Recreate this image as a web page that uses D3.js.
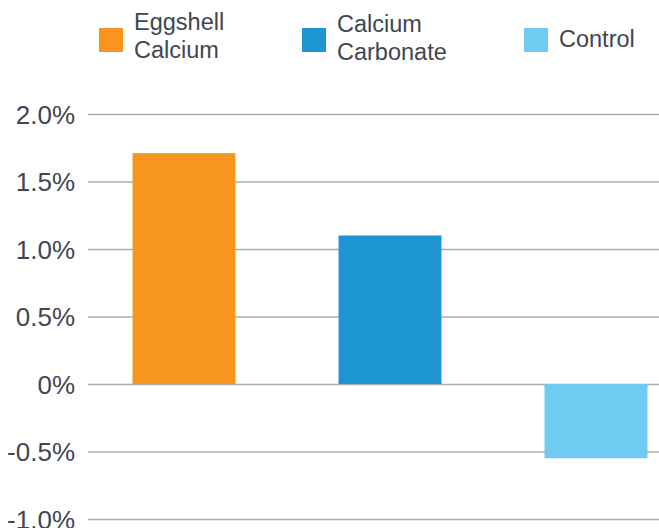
<!DOCTYPE html>
<html><head><meta charset="utf-8">
<script src="https://cdn.jsdelivr.net/npm/d3@7"></script>
<style>body{margin:0;background:#fff}svg{display:block}</style>
</head><body>
<svg id="c" width="659" height="528"></svg>
<script>
const categories = ["Eggshell Calcium", "Calcium Carbonate", "Control"];
const legendLines = [["Eggshell", "Calcium"], ["Calcium", "Carbonate"], ["Control"]];
const values = [1.71, 1.10, -0.55];
const colors = ["#F7951F", "#1E95D3", "#6FCBF1"];
const yTicks = [2.0, 1.5, 1.0, 0.5, 0, -0.5, -1.0];
const yTickLabels = ["2.0%", "1.5%", "1.0%", "0.5%", "0%", "-0.5%", "-1.0%"];

const svg = d3.select("#c");
const font = "'Liberation Sans', Arial, sans-serif";
const textColor = "#3f4752";

const y = d3.scaleLinear().domain([-1.0, 2.0]).range([519, 114]);
const x = d3.scaleBand().domain(categories).range([81, 699]).paddingInner(0.5).paddingOuter(0.25);

// grid + axis
const axis = d3.axisLeft(y).tickValues(yTicks)
  .tickFormat((d, i) => yTickLabels[i]).tickSize(-(659 - 88)).tickPadding(13);
const g = svg.append("g").attr("transform", "translate(88,0)").call(axis);
g.select(".domain").remove();
g.selectAll(".tick line").attr("stroke", "#ababab").attr("stroke-width", 1.5);
g.selectAll(".tick text").attr("fill", textColor).attr("font-family", font)
  .attr("font-size", 26).attr("dy", "0.35em");

// bars
svg.append("g").selectAll("rect").data(values).join("rect")
  .attr("x", (d, i) => x(categories[i]))
  .attr("width", x.bandwidth())
  .attr("y", d => y(Math.max(0, d)))
  .attr("height", d => Math.abs(y(d) - y(0)))
  .attr("fill", (d, i) => colors[i]);

// legend
const legX = [99, 302, 524];
const legTop = [2, 4, 19];
const leg = svg.append("g");
categories.forEach((c, i) => {
  const lg = leg.append("g").attr("transform", `translate(${legX[i]},28)`);
  lg.append("rect").attr("width", 24).attr("height", 24).attr("fill", colors[i]);
  const lines = legendLines[i];
  const t = lg.append("text").attr("font-family", font).attr("font-size", 23.5)
    .attr("fill", textColor);
  lines.forEach((l, j) => {
    t.append("tspan").attr("x", 35).attr("y", legTop[i] + j * 28).text(l);
  });
});
</script>
</body></html>
